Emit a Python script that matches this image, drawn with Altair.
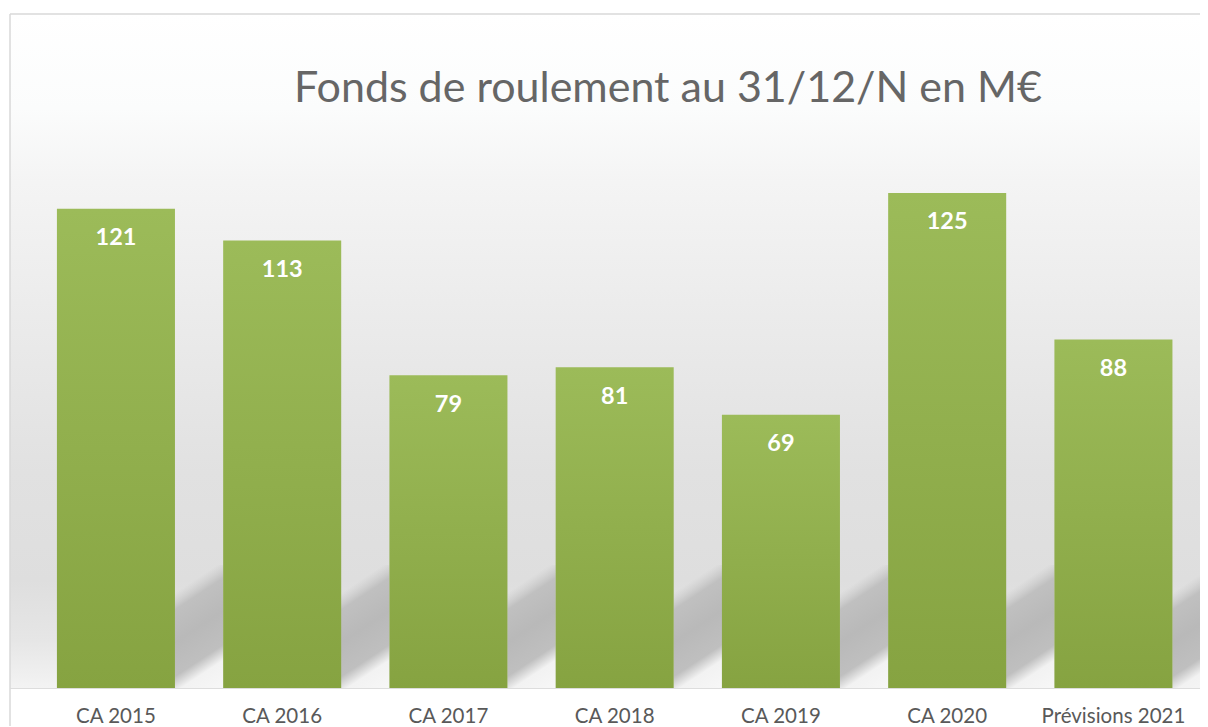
import altair as alt
import pandas as pd

categories = ["CA 2015", "CA 2016", "CA 2017", "CA 2018", "CA 2019", "CA 2020", "Prévisions 2021"]
values = [121, 113, 79, 81, 69, 125, 88]
title_text = "Fonds de roulement au 31/12/N en M€"

df = pd.DataFrame({"cat": categories, "val": values})

W = 1190
H = 674
FONT = "Lato"

xscale = alt.Scale(domain=categories, paddingInner=0.29, paddingOuter=0.224, align=0.63)
yscale = alt.Scale(domain=[0, 170.2], nice=False, zero=True)

one = alt.Data(values=[{"k": 1}])

bg_grad = alt.Gradient(
    gradient="linear", x1=0, y1=0, x2=0, y2=1,
    stops=[
        alt.GradientStop(color="#ffffff", offset=0),
        alt.GradientStop(color="#fbfcfc", offset=0.14),
        alt.GradientStop(color="#f4f4f4", offset=0.25),
        alt.GradientStop(color="#ebebeb", offset=0.45),
        alt.GradientStop(color="#e1e1e1", offset=0.68),
        alt.GradientStop(color="#dedede", offset=0.84),
        alt.GradientStop(color="#e6e6e6", offset=0.93),
        alt.GradientStop(color="#f3f3f3", offset=1),
    ],
)

background = alt.Chart(one).mark_rect(fill=bg_grad, stroke=None).encode(
    x=alt.value(0), x2=alt.value(W), y=alt.value(0), y2=alt.value(H)
)

shadow_grad = alt.Gradient(
    gradient="linear", x1=0, y1=0, x2=0.307, y2=1.18,
    stops=[
        alt.GradientStop(color="rgba(200,200,200,0)", offset=0),
        alt.GradientStop(color="rgba(200,200,200,0)", offset=0.18),
        alt.GradientStop(color="#c0c0c0", offset=0.29),
        alt.GradientStop(color="#b9b9b9", offset=0.50),
        alt.GradientStop(color="#bfbfbf", offset=0.72),
        alt.GradientStop(color="#f2f2f2", offset=0.82),
        alt.GradientStop(color="#f7f7f7", offset=1),
    ],
)

shadows = alt.Chart(df).mark_bar(fill=shadow_grad, width=48.5, xOffset=83.1, clip=True).encode(
    x=alt.X("cat:N", scale=xscale, sort=categories),
    y=alt.value(551), y2=alt.value(H),
)

bar_grad = alt.Gradient(
    gradient="linear", x1=0, y1=0, x2=0, y2=1,
    stops=[
        alt.GradientStop(color="#9cbb59", offset=0),
        alt.GradientStop(color="#86a341", offset=1),
    ],
)

bars = alt.Chart(df).mark_bar(fill=bar_grad).encode(
    x=alt.X("cat:N", scale=xscale, sort=categories,
            axis=alt.Axis(title=None, labelAngle=0, labelAlign="center", bandPosition=0.5,
                          domain=False, ticks=False, tickSize=0,
                          labelPadding=34, labelBaseline="alphabetic", labelFont=FONT,
                          labelFontSize=20.5, labelColor="#595959", grid=False,
                          labelOverlap=False, labelBound=False)),
    y=alt.Y("val:Q", scale=yscale, axis=None),
)

labels = alt.Chart(df).mark_text(
    dy=29.5, baseline="middle", fontWeight="bold", font=FONT, fontSize=23.5, color="white"
).encode(
    x=alt.X("cat:N", scale=xscale, sort=categories),
    y=alt.Y("val:Q", scale=yscale),
    text=alt.Text("val:Q"),
)

border_top = alt.Chart(one).mark_rule(color="#d9d9d9", strokeWidth=1.5).encode(
    x=alt.value(0), x2=alt.value(W + 20), y=alt.value(0)
)
border_left = alt.Chart(one).mark_rule(color="#d9d9d9", strokeWidth=1.5).encode(
    x=alt.value(0), y=alt.value(0), y2=alt.value(H + 40)
)

chart = alt.layer(background, shadows, bars, labels, border_top, border_left).properties(
    width=W, height=H,
    title=alt.TitleParams(title_text, font=FONT, fontSize=43, fontWeight="normal", color="#666666",
                          anchor="middle", dx=63, dy=132, offset=0, baseline="alphabetic"),
    padding={"left": 2, "top": 6, "right": 0, "bottom": 38},
    autosize=alt.AutoSizeParams(type="none"),
).configure_view(stroke=None).configure(background="white")

chart.save("out.html", embed_options={"renderer": "svg", "actions": False})
